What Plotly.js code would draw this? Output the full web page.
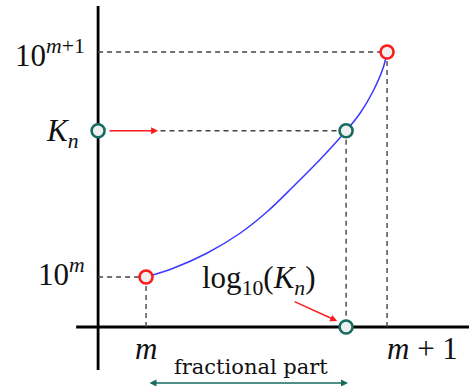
<!DOCTYPE html>
<html>
<head>
<meta charset="utf-8">
<script src="https://cdn.plot.ly/plotly-3.0.1.min.js"></script>
<style>html,body{margin:0;padding:0;background:#fff;}#chart{width:469px;height:386px;}</style>
</head>
<body>
<div id="chart"></div>
<script>
// ---- data (x in units of log10, m = 0; y in units of 10^m) ----
const curveX = [0, 0.113, 0.252, 0.390, 0.501, 0.611, 0.722, 0.830, 0.888, 0.943, 0.985, 1];
const curveY = [1, 1.35, 1.95, 2.75, 3.60, 4.62, 5.70, 6.85, 7.55, 8.45, 9.40, 10];
const endX = [0, 1];          // m, m+1
const endY = [1, 10];         // 10^m, 10^(m+1)
const logK = [0.83];          // log10(K_n) position (fractional part)
const Kn = [6.85];            // K_n
const xTickLabels = ["<i>m</i>", "<i>m</i> + 1"];
const yTickLabels = ["10<sup><i>m</i></sup>", "10<sup><i>m</i>+1</sup>"];
const knLabel = "<i>K<sub>n</sub></i>";
const logLabel = "log<sub>10</sub>(<i>K<sub>n</sub></i>)";
const fracLabel = "fractional part";

// ---- frame constants (styling / layout) ----
const axisX = -0.199;    // vertical axis position
const axisY = -1.0;      // horizontal axis position
const xRange = [-0.606, 1.340];
const yRange = [-3.36, 12.08];
const serif = "Liberation Serif";
const red = "#ff1a1a", teal = "#176b5f", dashCol = "#444444";

const dash = (xs, ys) => ({x: xs, y: ys, type: "scatter", mode: "lines",
  line: {color: dashCol, width: 1.4, dash: "5px,4px"}, hoverinfo: "skip"});

const traces = [
  dash([axisX, endX[0]], [endY[0], endY[0]]),
  dash([endX[0], endX[0]], [endY[0], axisY]),
  dash([axisX, endX[1]], [endY[1], endY[1]]),
  dash([endX[1], endX[1]], [endY[1], axisY]),
  dash([0.06, logK[0]], [Kn[0], Kn[0]]),
  dash([logK[0], logK[0]], [Kn[0], axisY]),
  {x: curveX, y: curveY, type: "scatter", mode: "lines",
   line: {color: "#3a3aff", width: 1.5, shape: "spline", smoothing: 1}},
  {x: endX, y: endY, type: "scatter", mode: "markers",
   marker: {size: 13, color: "#efefef", line: {color: red, width: 2.6}}},
  {x: [axisX, logK[0], logK[0]], y: [Kn[0], Kn[0], axisY], type: "scatter", mode: "markers",
   marker: {size: 13, color: "#efefef", line: {color: teal, width: 2.6}}}
];

const shapes = [
  {type: "line", xref: "x", yref: "y", x0: axisX, x1: axisX, y0: -2.72, y1: 11.84,
   line: {color: "#000", width: 2.8}, layer: "below"},
  {type: "line", xref: "x", yref: "y", x0: -0.29, x1: xRange[1], y0: axisY, y1: axisY,
   line: {color: "#000", width: 2.8}, layer: "below"}
];

const txt = (text, x, y, xanchor, size, family) => ({text: text, x: x, y: y, xref: "x", yref: "y",
  xanchor: xanchor, yanchor: "middle", showarrow: false,
  font: {family: family || serif, size: size, color: "#111"}});
const arrow = (x, y, ax, ay, color, side) => ({text: "", x: x, y: y, ax: ax, ay: ay,
  xref: "x", yref: "y", axref: "x", ayref: "y", showarrow: true, arrowhead: 2,
  arrowsize: 1, arrowwidth: 1.4, arrowcolor: color, arrowside: side || "end", startarrowhead: 2});

const annotations = [
  txt(yTickLabels[1], -0.245, endY[1] - 0.05, "right", 31),
  txt(knLabel, -0.272, Kn[0] - 0.1, "right", 31),
  txt(yTickLabels[0], -0.245, endY[0] + 0.2, "right", 31),
  txt(xTickLabels[0], endX[0], -1.85, "center", 31),
  txt(xTickLabels[1], endX[1] + 0.145, -1.85, "center", 31),
  txt(logLabel, 0.468, 0.9, "center", 31),
  txt(fracLabel, 0.436, -2.6, "center", 21, "DejaVu Serif"),
  arrow(0.05, Kn[0], -0.158, Kn[0], red),
  arrow(0.793, -0.76, 0.61, 0.04, red),
  arrow(logK[0] + 0.008, -3.24, endX[0] + 0.008, -3.24, teal, "end+start")
];

Plotly.newPlot("chart", traces, {
  width: 469, height: 386, margin: {l: 0, r: 0, t: 0, b: 0},
  paper_bgcolor: "#fff", plot_bgcolor: "#fff", showlegend: false,
  xaxis: {range: xRange, visible: false, fixedrange: true},
  yaxis: {range: yRange, visible: false, fixedrange: true},
  shapes: shapes, annotations: annotations
}, {staticPlot: true});
</script>
</body>
</html>
